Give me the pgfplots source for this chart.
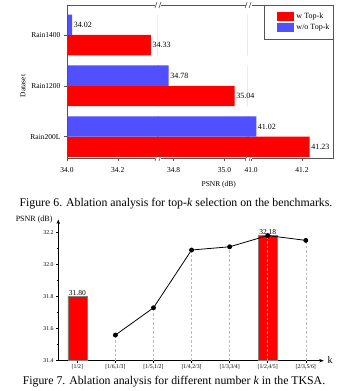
\documentclass[border=0pt]{standalone}
\usepackage{pgfplots}
\pgfplotsset{compat=1.18}
\usepackage{pgfplotstable}
\usepackage{fontspec}
\setmainfont{Liberation Serif}
\usetikzlibrary{arrows.meta}
\definecolor{myred}{RGB}{255,0,0}
\definecolor{myblue}{RGB}{80,80,255}
\definecolor{framegray}{RGB}{85,85,85}

\pgfplotstableread{
y  w      wo
0  41.23  41.02
1  35.04  34.78
2  34.33  34.02
}\topk

\pgfplotstableread{
x  psnr
1  31.56
2  31.73
3  32.09
4  32.11
5  32.18
6  32.15
}\kline

\pgfplotstableread{
x  psnr
0  31.80
5  32.18
}\kbars

\newcommand{\fs}[1]{\fontsize{#1}{#1}\selectfont}

\pgfplotsset{
  seg/.style={
    scale only axis, height=153pt,
    ymin=-0.42, ymax=2.59,
    axis x line*=bottom, axis y line*=left,
    axis line style={framegray, line width=0.6pt},
    tick align=outside,
    major tick length=3pt,
    tick style={framegray, line width=0.5pt},
    tick label style={font=\fs{7.5}},
    /pgf/number format/assume math mode=true,
    xticklabel style={/pgf/number format/fixed, /pgf/number format/fixed zerofill, /pgf/number format/precision=1, yshift=-3pt},
  },
  lab/.style={forget plot, only marks, mark=none,
    nodes near coords, point meta=x,
    every node near coord/.append style={font=\fs{8}, inner sep=1.5pt, anchor=west,
      /pgf/number format/fixed, /pgf/number format/fixed zerofill, /pgf/number format/precision=2}},
  rb/.style={xbar, bar width=0.4, bar shift=-0.2, fill=myred, draw=none,
    legend image code/.code={\path (-11pt,0pt); \fill[myred] (0pt,-4.5pt) rectangle (17.6pt,4.5pt);}},
  bb/.style={xbar, bar width=0.4, bar shift=0.2, fill=myblue, draw=none,
    legend image code/.code={\path (-11pt,0pt); \fill[myblue] (0pt,-4.5pt) rectangle (17.6pt,4.5pt);}},
}

\newcommand{\segbars}[2]{%
  \addplot[rb] table[x=w,y=y]{\topk};
  \addplot[bb] table[x=wo,y=y]{\topk};
  \addplot[lab, restrict x to domain=#1:#2] table[x=w,y expr=\thisrow{y}-0.2]{\topk};
  \addplot[lab, restrict x to domain=#1:#2] table[x=wo,y expr=\thisrow{y}+0.2]{\topk};
}

\begin{document}
\begin{tikzpicture}
\useasboundingbox (0pt,0pt) rectangle (351pt,-391pt);

% ---------- Figure 6: broken horizontal bar chart ----------
\begin{axis}[seg, name=A, at={(67pt,-158pt)}, anchor=south west,
  width=91.44pt, xmin=34.0, xmax=34.36, xtick={34.0,34.2},
  ytick={0,1,2}, yticklabels={Rain200L,Rain1200,Rain1400},
  yticklabel style={font=\fs{7.5}}]
\segbars{34.0}{34.36}
\end{axis}

\begin{axis}[seg, name=Bseg, at={(157.424pt,-158pt)}, anchor=south west,
  hide y axis,
  width=91.186pt, xmin=34.736, xmax=35.095, xtick={34.8,35.0}]
\segbars{34.74}{35.095}
\end{axis}

\begin{axis}[seg, name=C, at={(247.594pt,-158pt)}, anchor=south west,
  hide y axis,
  width=86.106pt, xmin=40.986, xmax=41.325, xtick={41.0,41.2},
  legend style={at={(1,1)}, anchor=north east, draw=framegray, line width=0.5pt,
    font=\fs{8}, inner xsep=2pt, inner ysep=5.5pt, row sep=0.5pt},
  legend cell align=left]
\segbars{40.99}{41.325}
\legend{w Top-k, w/o Top-k}
\end{axis}

\draw[framegray, line width=0.6pt] (A.south west) rectangle (C.north east);
\foreach \bx in {158.44pt, 248.61pt}{
  \foreach \by in {-158pt, -5pt}{
    \fill[white] ([xshift=\bx]0,\by) ++(-3pt,-1pt) rectangle ++(6pt,2pt);
    \draw[framegray, line width=0.6pt] ([xshift=\bx]0,\by) ++(-3.5pt,-3pt) -- ++(2pt,6pt);
    \draw[framegray, line width=0.6pt] ([xshift=\bx]0,\by) ++(0.5pt,-3pt) -- ++(2pt,6pt);
  }
}
\node[rotate=90, font=\fs{7.5}] at (23pt,-86pt) {Dataset};
\node[font=\fs{7.5}] at (218.8pt,-184.5pt) {PSNR (dB)};
\node[font=\fs{11.8}] at (176pt,-204pt) {Figure 6. Ablation analysis for top-\textit{k} selection on the benchmarks.};

% ---------- Figure 7: k ablation ----------
\begin{axis}[name=K, scale only axis, at={(58.3pt,-360.7pt)}, anchor=south west,
  width=265.4pt, height=141.2pt,
  xmin=-0.5, xmax=6.47, ymin=31.4, ymax=32.28,
  axis lines=left,
  axis line style={line width=0.6pt, -{Stealth[length=4.5pt, width=3.5pt]}},
  tick align=outside, major tick length=2.5pt, minor tick length=1.5pt,
  tick style={black, line width=0.5pt},
  xtick={0,1,2,3,4,5,6},
  xticklabels={{[1/2]},{[1/6,1/3]},{[1/5,1/2]},{[1/4,2/3]},{[1/3,3/4]},{[1/2,4/5]},{[2/3,5/6]}},
  xticklabel style={font=\fs{5.8}, inner sep=1.5pt},
  ytick={31.4,31.6,31.8,32.0,32.2}, minor y tick num=1,
  yticklabel style={font=\fs{5.8}, inner sep=2pt, /pgf/number format/fixed, /pgf/number format/fixed zerofill, /pgf/number format/precision=1},
  /pgf/number format/assume math mode=true,
  clip=true]
\addplot[ybar, bar width=0.5, fill=myred, draw=gray, line width=0.5pt,
  nodes near coords, point meta=y,
  every node near coord/.append style={font=\fs{7.5}, inner sep=1pt, black,
    /pgf/number format/fixed, /pgf/number format/fixed zerofill, /pgf/number format/precision=2}]
  table[x=x,y=psnr]{\kbars};
\addplot[ycomb, gray!55, line width=0.6pt, dash pattern=on 2.5pt off 2pt, forget plot]
  table[x=x,y=psnr]{\kline};
\addplot[black, line width=0.8pt, mark=*, mark size=2pt, mark options={solid, fill=black}]
  table[x=x,y=psnr]{\kline};
\end{axis}
\node[font=\fs{8}, anchor=east] at (56pt,-219.5pt) {PSNR (dB)};
\node[font=\fs{10}] at (330pt,-360pt) {k};
\node[font=\fs{11.8}] at (174pt,-381.5pt) {Figure 7. Ablation analysis for different number \textit{k} in the TKSA.};
\end{tikzpicture}
\end{document}
